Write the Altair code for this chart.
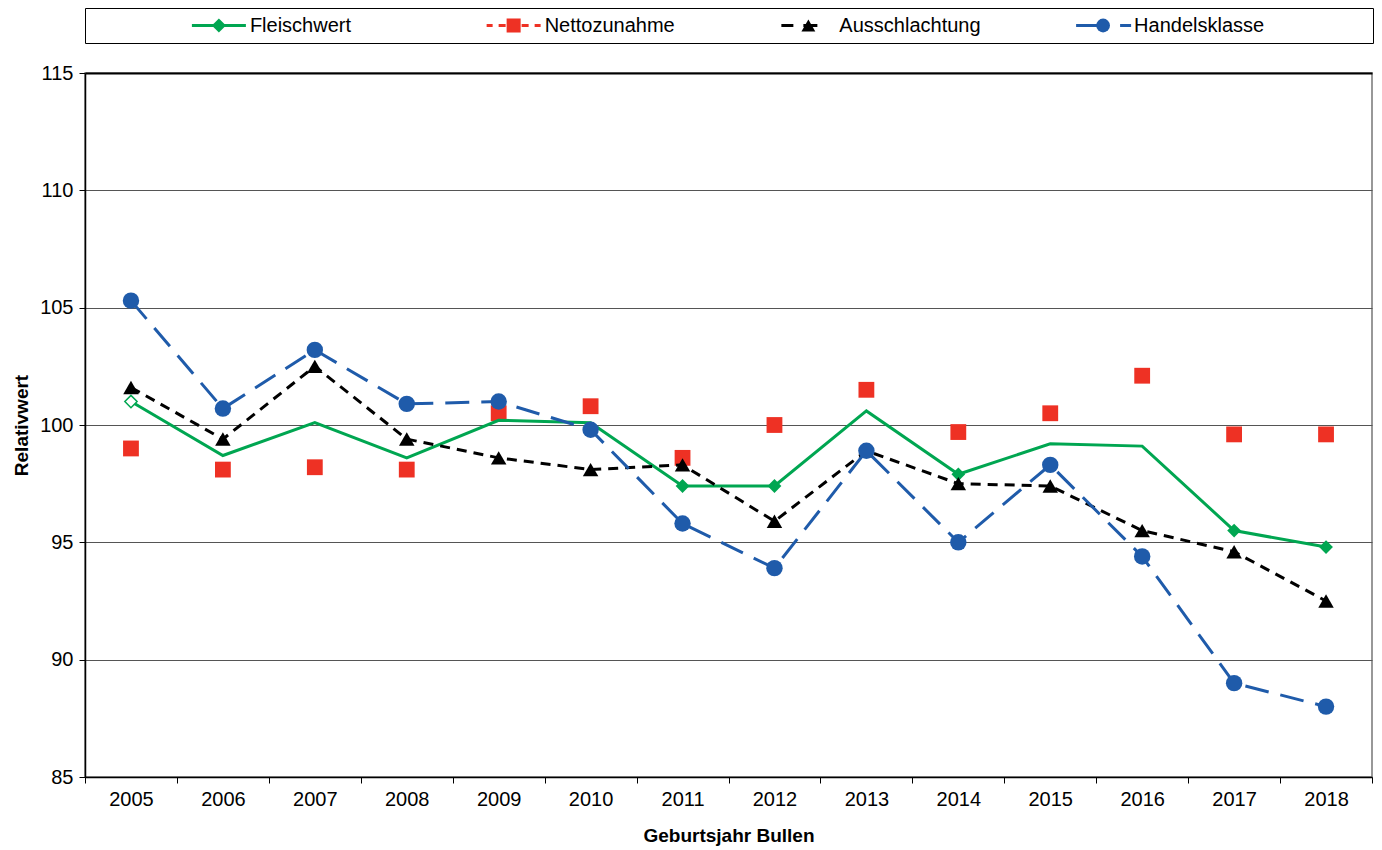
import altair as alt
import pandas as pd

years = list(range(2005, 2019))
series = ["Fleischwert", "Nettozunahme", "Ausschlachtung", "Handelsklasse"]
fleischwert = [101.0, 98.7, 100.1, 98.6, 100.2, 100.1, 97.4, 97.4, 100.6, 97.9, 99.2, 99.1, 95.5, 94.8]
nettozunahme = [99.0, 98.1, 98.2, 98.1, 100.5, 100.8, 98.6, 100.0, 101.5, 99.7, 100.5, 102.1, 99.6, 99.6]
ausschlachtung = [101.6, 99.4, 102.5, 99.4, 98.6, 98.1, 98.3, 95.9, 98.9, 97.5, 97.4, 95.5, 94.6, 92.5]
handelsklasse = [105.3, 100.7, 103.2, 100.9, 101.0, 99.8, 95.8, 93.9, 98.9, 95.0, 98.3, 94.4, 89.0, 88.0]
fleisch_marker_years = [2011, 2012, 2014, 2017, 2018]
fleisch_hollow_years = [2005]
y_ticks = [85, 90, 95, 100, 105, 110, 115]

colors = ["#00A651", "#EE3124", "#000000", "#1F5BAA"]
FONT = "Liberation Sans"
FS = 20

values = {"Fleischwert": fleischwert, "Nettozunahme": nettozunahme,
          "Ausschlachtung": ausschlachtung, "Handelsklasse": handelsklasse}
df = pd.DataFrame([{"Jahr": y, "Serie": s, "Wert": v}
                   for s in series for y, v in zip(years, values[s])])

color_scale = alt.Scale(domain=series, range=colors)

x_enc = alt.X("Jahr:O", bandPosition=0.5,
              scale=alt.Scale(type="band", paddingInner=0, paddingOuter=0),
              axis=alt.Axis(title="Geburtsjahr Bullen", tickBand="extent", labelAngle=0,
                            labelFontSize=FS, labelFont=FONT, labelColor="#000",
                            titleFontSize=FS - 1, titleFont=FONT, titleFontWeight="bold",
                            titleColor="#000", titlePadding=17, labelPadding=6,
                            domainColor="#000", domainWidth=1.5, tickColor="#000",
                            tickSize=6, grid=False))
y_enc = alt.Y("Wert:Q", scale=alt.Scale(domain=[85, 115], nice=False, zero=False),
              axis=alt.Axis(title="Relativwert", values=y_ticks, grid=True,
                            gridColor={"condition": {"test": "datum.value === 115", "value": "#000"},
                                       "value": "#555"},
                            gridWidth={"condition": {"test": "datum.value === 115", "value": 2},
                                       "value": 1},
                            labelFontSize=FS, labelFont=FONT, labelColor="#000",
                            titleFontSize=FS - 1, titleFont=FONT, titleFontWeight="bold",
                            titleColor="#000", titlePadding=8, labelPadding=6,
                            domainColor="#000", domainWidth=1.5, tickColor="#000",
                            tickSize=6))

base = alt.Chart(df)

def sub(name):
    return base.transform_filter(alt.datum.Serie == name)

color_enc = alt.Color("Serie:N", scale=color_scale, legend=None)

red_pts = sub("Nettozunahme").mark_point(shape="square", filled=True, size=250, opacity=1).encode(
    x=x_enc, y=y_enc, color=color_enc)
green_line = sub("Fleischwert").mark_line(strokeWidth=3).encode(x=x_enc, y=y_enc, color=color_enc)
green_pts = sub("Fleischwert").transform_filter(
    alt.FieldOneOfPredicate(field="Jahr", oneOf=fleisch_marker_years)).mark_point(
    shape="diamond", filled=True, size=190, opacity=1).encode(x=x_enc, y=y_enc, color=color_enc)
green_hollow = sub("Fleischwert").transform_filter(
    alt.FieldOneOfPredicate(field="Jahr", oneOf=fleisch_hollow_years)).mark_point(
    shape="diamond", filled=False, fill="white", size=150, strokeWidth=1.5, opacity=1).encode(
    x=x_enc, y=y_enc, color=color_enc)
black_line = sub("Ausschlachtung").mark_line(strokeWidth=3, strokeDash=[10, 7]).encode(
    x=x_enc, y=y_enc, color=color_enc)
black_pts = sub("Ausschlachtung").mark_point(shape="triangle-up", filled=True, size=240, opacity=1).encode(
    x=x_enc, y=y_enc, color=color_enc)
blue_line = sub("Handelsklasse").mark_line(strokeWidth=3, strokeDash=[24, 12]).encode(
    x=x_enc, y=y_enc, color=color_enc)
blue_pts = sub("Handelsklasse").mark_point(shape="circle", filled=True, size=270, opacity=1).encode(
    x=x_enc, y=y_enc, color=color_enc)

main = alt.layer(red_pts, green_line, green_pts, green_hollow, black_line, black_pts,
                 blue_line, blue_pts).properties(
    width=1287, height=704,
    view=alt.ViewBackground(stroke="#777", strokeWidth=1.5))

# legend panel
line_paths = ["M-27,0H27",
              "M-27,0H-21M-15,0H-8M8,0H15M21,0H27",
              "M-27,0H-15M-5,0H9",
              "M-27,0H3M17,0H28"]
marker_shapes = ["diamond", "square", "triangle-up", "circle"]
marker_sizes = [200, 190, 260, 210]
leg_df = pd.DataFrame({"Serie": series})
leg_x = alt.X("Serie:N", sort=series,
              scale=alt.Scale(type="band", paddingInner=0, paddingOuter=0.185), axis=None)
leg_base = alt.Chart(leg_df)
leg_lines = leg_base.mark_point(filled=False, size=4, strokeWidth=3, opacity=1, xOffset=-68).encode(
    x=leg_x,
    shape=alt.Shape("Serie:N", scale=alt.Scale(domain=series, range=line_paths), legend=None),
    color=color_enc)
leg_marks = leg_base.mark_point(filled=True, opacity=1, xOffset=-68).encode(
    x=leg_x,
    shape=alt.Shape("Serie:N", scale=alt.Scale(domain=series, range=marker_shapes), legend=None),
    size=alt.Size("Serie:N", scale=alt.Scale(domain=series, range=marker_sizes), legend=None),
    color=color_enc)
leg_text = leg_base.mark_text(align="left", baseline="middle", xOffset=-37, fontSize=FS,
                              font=FONT, color="#000").encode(x=leg_x, text="Serie:N")
legend = alt.layer(leg_lines, leg_marks, leg_text).resolve_scale(
    shape="independent").properties(
    width=1288, height=35,
    view=alt.ViewBackground(stroke="#000", strokeWidth=1))

chart = alt.vconcat(legend, main, spacing=30, bounds="flush").properties(
    padding={"left": 3, "top": -1, "right": 0, "bottom": 0}
).configure(font=FONT)

chart.save("out.html", embed_options={"renderer": "svg", "actions": False})
